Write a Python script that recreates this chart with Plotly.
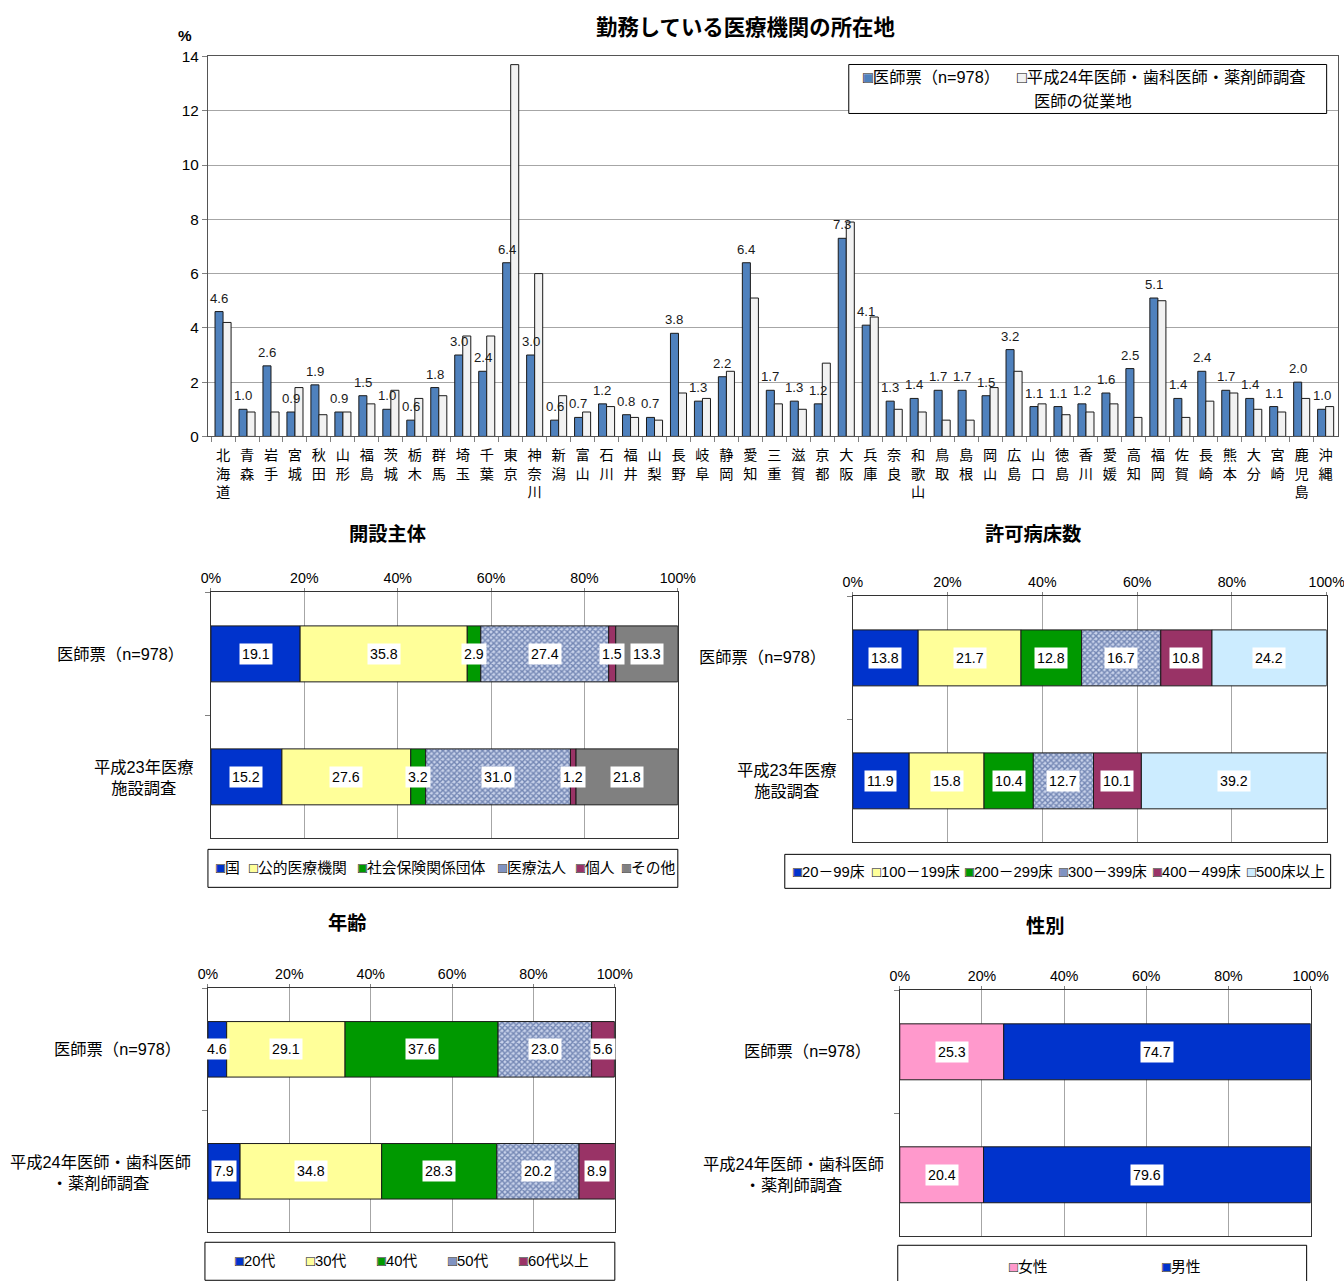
import math
import numpy as np
import plotly.graph_objects as go

W, H = 1344, 1281                 # target picture size (px)
OX, OY = 9.0, 8.5                 # where the figure origin lands on the page
SX, SY = 0.979, 0.987             # page zoom seen when the page is rendered
FW = math.ceil((W - OX) / SX)     # figure size covering the whole picture
FH = math.ceil((H - OY) / SY)
FS = 1 / ((SX + SY) / 2)          # font compensation for the zoom
FONT = "Liberation Sans, Noto Sans CJK JP, sans-serif"
JP = "Noto Sans CJK JP, sans-serif"

# ---- 勤務している医療機関の所在地 (%)
prefectures = ["北海道", "青森", "岩手", "宮城", "秋田", "山形", "福島", "茨城", "栃木", "群馬",
               "埼玉", "千葉", "東京", "神奈川", "新潟", "富山", "石川", "福井", "山梨", "長野",
               "岐阜", "静岡", "愛知", "三重", "滋賀", "京都", "大阪", "兵庫", "奈良", "和歌山",
               "鳥取", "島根", "岡山", "広島", "山口", "徳島", "香川", "愛媛", "高知", "福岡",
               "佐賀", "長崎", "熊本", "大分", "宮崎", "鹿児島", "沖縄"]
survey_pct = [4.6, 1.0, 2.6, 0.9, 1.9, 0.9, 1.5, 1.0, 0.6, 1.8,
              3.0, 2.4, 6.4, 3.0, 0.6, 0.7, 1.2, 0.8, 0.7, 3.8,
              1.3, 2.2, 6.4, 1.7, 1.3, 1.2, 7.3, 4.1, 1.3, 1.4,
              1.7, 1.7, 1.5, 3.2, 1.1, 1.1, 1.2, 1.6, 2.5, 5.1,
              1.4, 2.4, 1.7, 1.4, 1.1, 2.0, 1.0]
census_pct = [4.2, 0.9, 0.9, 1.8, 0.8, 0.9, 1.2, 1.7, 1.4, 1.5,
              3.7, 3.7, 13.7, 6.0, 1.5, 0.9, 1.1, 0.7, 0.6, 1.6,
              1.4, 2.4, 5.1, 1.2, 1.0, 2.7, 7.9, 4.4, 1.0, 0.9,
              0.6, 0.6, 1.8, 2.4, 1.2, 0.8, 0.9, 1.2, 0.7, 5.0,
              0.7, 1.3, 1.6, 1.0, 0.9, 1.4, 1.1]
survey_name = "医師票（n=978）"
census_name_1 = "平成24年医師・歯科医師・薬剤師調査"
census_name_2 = "医師の従業地"

# ---- 開設主体
owner_rows = ["医師票（n=978）", "平成23年医療<br>施設調査"]
owner_cats = ["国", "公的医療機関", "社会保険関係団体", "医療法人", "個人", "その他"]
owner_survey = [19.1, 35.8, 2.9, 27.4, 1.5, 13.3]
owner_facility = [15.2, 27.6, 3.2, 31.0, 1.2, 21.8]

# ---- 許可病床数
beds_rows = ["医師票（n=978）", "平成23年医療<br>施設調査"]
beds_cats = ["20－99床", "100－199床", "200－299床", "300－399床", "400－499床", "500床以上"]
beds_survey = [13.8, 21.7, 12.8, 16.7, 10.8, 24.2]
beds_facility = [11.9, 15.8, 10.4, 12.7, 10.1, 39.2]

# ---- 年齢
age_rows = ["医師票（n=978）", "平成24年医師・歯科医師<br>・薬剤師調査"]
age_cats = ["20代", "30代", "40代", "50代", "60代以上"]
age_survey = [4.6, 29.1, 37.6, 23.0, 5.6]
age_census = [7.9, 34.8, 28.3, 20.2, 8.9]

# ---- 性別
sex_rows = ["医師票（n=978）", "平成24年医師・歯科医師<br>・薬剤師調査"]
sex_cats = ["女性", "男性"]
sex_survey = [25.3, 74.7]
sex_census = [20.4, 79.6]

pct_ticks = [0, 20, 40, 60, 80, 100]

# ---- styling
BLUE, YELLOW, GREEN, MAROON, GRAY = "#0033CC", "#FFFF99", "#009900", "#993366", "#808080"
HATCH = "hatch"
owner_colors = [BLUE, YELLOW, GREEN, HATCH, MAROON, GRAY]
beds_colors = [BLUE, YELLOW, GREEN, HATCH, MAROON, "#CCECFF"]
age_colors = [BLUE, YELLOW, GREEN, HATCH, MAROON]
sex_colors = ["#FF99CC", BLUE]
HATCH_LEGEND = "#7F93C2"
BARGAP = 0.33


def fs(size):
    return round(size * FS, 1)


def px(x):
    """picture pixel -> paper x"""
    return min(1.0, max(0.0, (x - OX) / SX / FW))


def py(y):
    """picture pixel -> paper y"""
    return min(1.0, max(0.0, 1 - (y - OY) / SY / FH))


def label(x, y, text, size, xanchor="center", family=FONT, **kw):
    return dict(xref="paper", yref="paper", x=px(x), y=py(y), xanchor=xanchor,
                yanchor="middle", text=text, showarrow=False,
                font=dict(size=fs(size), family=family, color="#000000"), **kw)


fig = go.Figure()
annotations = []
shapes = []

# ================= top grouped bar chart =================
cat_labels = ["<br>".join(p) for p in prefectures]
edge = dict(color="#1a1a1a", width=1)
fig.add_bar(x=cat_labels, y=survey_pct, name=survey_name, xaxis="x", yaxis="y",
            marker=dict(color="#4F81BD", line=edge), showlegend=False, hoverinfo="skip")
fig.add_bar(x=cat_labels, y=census_pct, name=census_name_1, xaxis="x", yaxis="y",
            marker=dict(color="#F2F2F2", line=edge), showlegend=False, hoverinfo="skip")

# value labels above the 医師票 bars, drawn above both bar series
TOP_X0, TOP_X1 = 207, 1337
slot = (TOP_X1 - TOP_X0) / SX / len(prefectures)
blue_shift = -slot * (1 - BARGAP) / 4
for c, v in zip(cat_labels, survey_pct):
    annotations.append(dict(xref="x", yref="y", x=c, y=v, text=f"{v:.1f}", showarrow=False,
                            xanchor="center", yanchor="bottom", xshift=blue_shift, yshift=4,
                            font=dict(size=fs(13), color="#1a1a1a", family=FONT)))

layout = dict(
    width=FW, height=FH, margin=dict(l=0, r=0, t=0, b=0),
    paper_bgcolor="white", plot_bgcolor="white",
    barmode="group", bargap=BARGAP, bargroupgap=0.0,
    font=dict(family=FONT, color="#000000"),
    showlegend=False,
    xaxis=dict(domain=[px(TOP_X0), px(TOP_X1)], anchor="y", type="category",
               tickson="boundaries", ticks="outside", ticklen=5, tickcolor="#808080",
               ticklabelstandoff=6,
               showline=True, linecolor="#555555", mirror=True, showgrid=False,
               tickfont=dict(size=fs(14), family=JP), fixedrange=True),
    yaxis=dict(domain=[py(436), py(56)], anchor="x", range=[0, 14], dtick=2,
               showgrid=True, gridcolor="#A6A6A6", gridwidth=1, zeroline=False,
               showline=True, linecolor="#555555", mirror=True,
               ticks="outside", ticklen=5, tickcolor="#808080",
               tickfont=dict(size=fs(15)), fixedrange=True),
)

annotations.append(label(745, 25, "<b>勤務している医療機関の所在地</b>", 21, family=JP))
annotations.append(label(184, 35, "<b>%</b>", 15))


def legend_entry(x, y, color, text, size):
    """Coloured square with black outline followed by the text (left anchored)."""
    annotations.append(label(x, y, f"<span style='color:{color}'>■</span>{text}", size,
                             xanchor="left"))
    annotations.append(label(x, y, "□", size, xanchor="left"))


def frame(x0, y0, x1, y1):
    shapes.append(dict(type="rect", xref="paper", yref="paper",
                       x0=px(x0), x1=px(x1), y0=py(y1), y1=py(y0),
                       line=dict(color="#000000", width=1), fillcolor="white", layer="above"))


frame(848, 64, 1326, 113)
legend_entry(860, 77, "#4F81BD", survey_name, 16)
legend_entry(1014, 77, "#F2F2F2", census_name_1, 16)
annotations.append(label(1031, 101, census_name_2, 16, xanchor="left"))

# ================= stacked 100% panels =================
panels = [
    dict(n=2, title="開設主体", tx=387, ty=533, x0=210, x1=677, y0=592, y1=838,
         rows=owner_rows, cats=owner_cats, colors=owner_colors,
         values=[owner_survey, owner_facility],
         lab1=(185, 654), lab2=(143, 777),
         box=(207, 849, 677, 887), leg_y=868, leg_x=[213, 246, 355, 495, 573, 619]),
    dict(n=3, title="許可病床数", tx=1032, ty=533, x0=852, x1=1326, y0=596, y1=842,
         rows=beds_rows, cats=beds_cats, colors=beds_colors,
         values=[beds_survey, beds_facility],
         lab1=(827, 657), lab2=(786, 780),
         box=(784, 854, 1330, 888), leg_y=872, leg_x=[790, 869, 962, 1056, 1150, 1244]),
    dict(n=4, title="年齢", tx=347, ty=922, x0=207, x1=614, y0=988, y1=1232,
         rows=age_rows, cats=age_cats, colors=age_colors,
         values=[age_survey, age_census],
         lab1=(182, 1049), lab2=(100, 1172),
         box=(204, 1242, 614, 1280), leg_y=1261, leg_x=[232, 303, 374, 445, 516]),
    dict(n=5, title="性別", tx=1045, ty=925, x0=899, x1=1310, y0=990, y1=1236,
         rows=sex_rows, cats=sex_cats, colors=sex_colors,
         values=[sex_survey, sex_census],
         lab1=(872, 1051), lab2=(793, 1174),
         box=(897, 1245, 1306, 1300), leg_y=1267, leg_x=[1006, 1159]),
]

for p in panels:
    n = p["n"]
    xa, ya = f"x{n}", f"y{n}"
    vals = np.array(p["values"], dtype=float)          # rows x categories
    starts = np.cumsum(vals, axis=1) - vals
    for j, cat in enumerate(p["cats"]):
        color = p["colors"][j]
        if color == HATCH:
            marker = dict(color="#C8D2EA", line=edge,
                          pattern=dict(shape="x", fgcolor="#1F3C7E", size=4, solidity=0.6))
        else:
            marker = dict(color=color, line=edge)
        fig.add_bar(y=p["rows"], x=vals[:, j], base=starts[:, j], orientation="h",
                    name=cat, xaxis=xa, yaxis=ya, offsetgroup=f"g{n}", width=0.455,
                    marker=marker, showlegend=False, hoverinfo="skip")
        for i, row in enumerate(p["rows"]):
            annotations.append(dict(xref=xa, yref=ya, x=starts[i, j] + vals[i, j] / 2, y=row,
                                    xanchor="center", yanchor="middle",
                                    text=f"{vals[i, j]:.1f}", showarrow=False,
                                    bgcolor="white", borderpad=2,
                                    font=dict(size=fs(14), color="#000000")))

    layout[f"xaxis{n}"] = dict(domain=[px(p["x0"]), px(p["x1"])], anchor=ya, side="top",
                               range=[0, 100], tickmode="array", tickvals=pct_ticks,
                               ticktext=[f"{t}%" for t in pct_ticks],
                               showgrid=True, gridcolor="#A6A6A6", zeroline=False,
                               showline=True, linecolor="#333333", mirror=True,
                               ticks="outside", ticklen=3, tickcolor="#808080",
                               tickfont=dict(size=fs(14)), fixedrange=True)
    layout[f"yaxis{n}"] = dict(domain=[py(p["y1"]), py(p["y0"])], anchor=xa, type="category",
                               categoryorder="array", categoryarray=p["rows"], range=[1.5, -0.5],
                               showticklabels=False, ticks="outside", tickson="boundaries",
                               ticklen=5, tickcolor="#808080", showgrid=False,
                               showline=True, linecolor="#333333", mirror=True, fixedrange=True)

    # panel title and row labels
    annotations.append(label(p["tx"], p["ty"], f"<b>{p['title']}</b>", 19, family=JP))
    annotations.append(label(p["lab1"][0], p["lab1"][1], p["rows"][0], 16, xanchor="right"))
    annotations.append(label(p["lab2"][0], p["lab2"][1], p["rows"][1], 16, align="center"))

    # legend box
    frame(*p["box"])
    for j, cat in enumerate(p["cats"]):
        c = p["colors"][j]
        legend_entry(p["leg_x"][j], p["leg_y"], HATCH_LEGEND if c == HATCH else c, cat, 14.5)

layout["annotations"] = annotations
layout["shapes"] = shapes
fig.update_layout(**layout)
fig.write_html("out.html")
